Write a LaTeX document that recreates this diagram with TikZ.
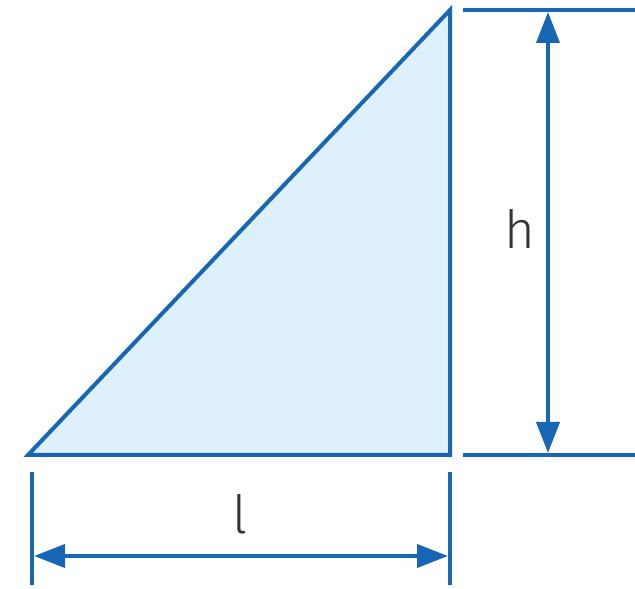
\documentclass[tikz,border=0pt]{standalone}
\usepackage{fontspec}
\setsansfont{Fira Sans Light}
\usepackage{xcolor}
\usetikzlibrary{arrows.meta, positioning}
\definecolor{dimblue}{HTML}{1767B6}
\definecolor{fillblue}{HTML}{DDF0FB}
\definecolor{labelgray}{HTML}{333333}

\begin{document}
\begin{tikzpicture}[
  line width=0.08cm,
  dimline/.style={dimblue},
  dimarrow/.style={dimblue,{Triangle[length=6.2mm,width=4.6mm]}-{Triangle[length=6.2mm,width=4.6mm]}},
  dimlabel/.style={text=labelgray,font=\sffamily\fontsize{30}{36}\selectfont}
]
\useasboundingbox (0,0) rectangle (12.7,11.78);
% triangle corners
\coordinate (A) at (0.56,2.68);
\coordinate (B) at (9.0,2.68);
\coordinate (C) at (9.0,11.58);
\draw[dimblue,fill=fillblue,line join=miter] (A) -- (B) -- (C) -- cycle;
% extension lines for h
\coordinate (topL) at (9.26,11.58);
\coordinate (topR) at (12.7,11.58);
\coordinate (botL) at (9.26,2.68);
\coordinate (botR) at (12.7,2.68);
\draw[dimline] (topL) -- (topR);
\draw[dimline] (botL) -- (botR);
% extension lines for l
\coordinate (lTop) at (0.64,2.34);
\coordinate (lBot) at (0.64,0.08);
\coordinate (rTop) at (9.0,2.34);
\coordinate (rBot) at (9.0,0.08);
\draw[dimline] (lTop) -- (lBot);
\draw[dimline] (rTop) -- (rBot);
% dimension arrows
\coordinate (hUp) at (10.96,11.54);
\coordinate (hDn) at (10.96,2.72);
\draw[dimarrow] (hUp) -- (hDn);
\coordinate (lLeft) at (0.68,0.66);
\coordinate (lRight) at (8.96,0.66);
\draw[dimarrow] (lLeft) -- (lRight);
% labels
\node[dimlabel] (hlabel) at (10.4,7.2) {h};
\node[dimlabel] (llabel) at (4.8,1.5) {l};
\end{tikzpicture}
\end{document}
